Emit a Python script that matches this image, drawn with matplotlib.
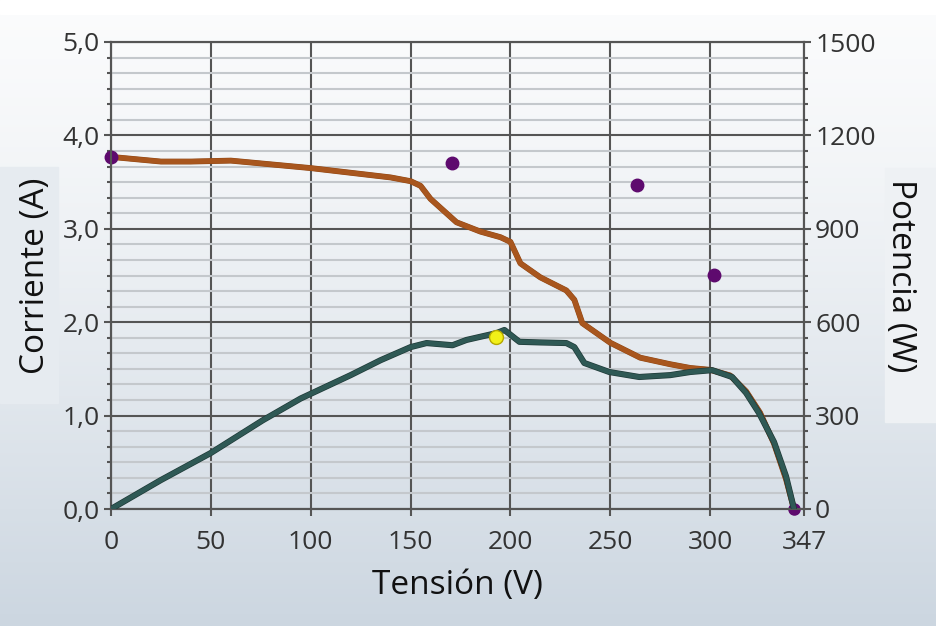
import numpy as np
import matplotlib
matplotlib.use('Agg')
import matplotlib.pyplot as plt
import matplotlib.patheffects as pe
from matplotlib.ticker import MultipleLocator

# current curve I(V)
v_curr = [0, 10, 25, 40, 60, 80, 100, 120, 140, 150, 155, 160, 173, 185, 195, 200,
          205, 215, 228, 232, 236, 242, 250, 265, 280, 290, 300, 310, 318, 325, 332, 338, 342]
i_curr = [3.77, 3.75, 3.72, 3.72, 3.73, 3.69, 3.65, 3.60, 3.55, 3.51, 3.46, 3.32, 3.07, 2.97, 2.91, 2.86,
          2.63, 2.48, 2.34, 2.24, 1.99, 1.90, 1.78, 1.62, 1.55, 1.51, 1.49, 1.43, 1.26, 1.03, 0.70, 0.32, 0.0]

# power curve P(V)
v_pow = [0, 25, 50, 76, 95, 105, 120, 135, 150, 158, 171, 178, 193, 197, 204.5,
         215, 228, 232, 237, 249.5, 264.5, 280, 290, 301, 311, 318, 324.5, 332, 338, 342]
p_pow = [0, 93, 180, 285, 355, 385, 430, 478, 520, 533, 526, 543, 565, 575, 537,
         535, 533, 520, 469, 440, 424, 430, 440, 446, 424, 373, 308, 215, 105, 0]

# purple markers
v_pts = [170.5, 263.5, 302]
p_pts = [1111, 1041, 752]
isc = 3.77
voc = 342

# maximum power point (yellow)
v_mpp = 193
p_mpp = 552

xticks = [0, 50, 100, 150, 200, 250, 300, 347]
yticks_a = [0, 1, 2, 3, 4, 5]
yticks_w = [0, 300, 600, 900, 1200, 1500]

fig = plt.figure(figsize=(9.36, 6.26), dpi=100)

# background gradient
bg = fig.add_axes([0, 0, 1, 1], zorder=-10)
grad = np.linspace(0, 1, 256).reshape(-1, 1)
top = np.array([0.985, 0.987, 0.99])
bot = np.array([0.80, 0.84, 0.88])
img = top + (bot - top) * grad[..., None] ** 1.3
bg.imshow(img, aspect='auto', extent=[0, 1, 0, 1], origin='upper')
bg.axhspan(0.978, 1.0, color='white')
bg.add_patch(plt.Rectangle((0, 1 - 403 / 626), 58 / 936, (403 - 167) / 626, color='#e6ebf0'))
bg.add_patch(plt.Rectangle((885 / 936, 1 - 422 / 626), 51 / 936, (422 - 168) / 626, color='#eef1f4'))
bg.set_xlim(0, 1)
bg.set_ylim(0, 1)
bg.axis('off')

ax = fig.add_axes([111 / 936, 1 - 509 / 626, (804 - 111) / 936, (509 - 42) / 626])
ax.patch.set_alpha(0)
ax.set_xlim(0, 347)
ax.set_ylim(0, 5)
ax2 = ax.twinx()
ax2.set_ylim(0, 1500)

fnt = 'Open Sans'
ax.set_xticks(xticks)
ax.set_xticklabels([str(t) for t in xticks], fontsize=19, family=fnt, color='#333333')
ax.set_yticks(yticks_a)
ax.yaxis.set_minor_locator(MultipleLocator(1 / 6))
ax.set_yticklabels([f'{t:.1f}'.replace('.', ',') for t in yticks_a], fontsize=19, family=fnt, color='#333333')
ax2.set_yticks(yticks_w)
ax2.yaxis.set_minor_locator(MultipleLocator(50))
ax2.set_yticklabels([str(t) for t in yticks_w], fontsize=19, family=fnt, color='#333333')

ax.grid(which='major', axis='both', color='#555555', lw=1.5)
ax.grid(which='minor', axis='y', color='#c4c8cc', lw=1.5)
ax.set_axisbelow(True)
for a in (ax, ax2):
    for s in a.spines.values():
        s.set_color('#555555')
        s.set_linewidth(1.5)
ax.tick_params(axis='x', which='major', length=5, width=1.5, color='#555555', pad=10)
ax.tick_params(axis='y', which='major', length=5, width=1.5, color='#555555', pad=3)
ax.tick_params(axis='y', which='minor', length=3, width=1.5, color='#555555')
ax2.tick_params(axis='y', which='major', length=5, width=1.5, color='#555555', pad=3)
ax2.tick_params(axis='y', which='minor', length=3, width=1.5, color='#555555')

ax.set_xlabel('Tensión (V)', fontsize=24, family=fnt, color='#111111', labelpad=10)
ax.set_ylabel('Corriente (A)', fontsize=24, family=fnt, color='#111111', labelpad=8)
ax2.set_ylabel('Potencia (W)', fontsize=24, family=fnt, color='#111111', rotation=270, labelpad=30)

ax.plot(v_curr, i_curr, color='#a8561e', lw=3.6, solid_capstyle='round', zorder=3,
        path_effects=[pe.Stroke(linewidth=4.2, foreground='#8e4512'), pe.Normal()])
ax2.plot(v_pow, p_pow, color='#2f5955', lw=3.4, solid_capstyle='round', zorder=4,
         path_effects=[pe.Stroke(linewidth=4.4, foreground='#1f3a38'), pe.Normal()])

ax2.plot(v_pts, p_pts, 'o', color='#5e0a6e', ms=9, zorder=5)
ax.plot([0], [isc], 'o', color='#5e0a6e', ms=9, zorder=5, clip_on=False)
ax.plot([voc], [0], 'o', color='#5e0a6e', ms=8, zorder=5, clip_on=False)
ax2.plot([v_mpp], [p_mpp], 'o', color='#f2f018', mec='#b5a800', mew=1, ms=10, zorder=6)

fig.savefig('out.png', dpi=100)
